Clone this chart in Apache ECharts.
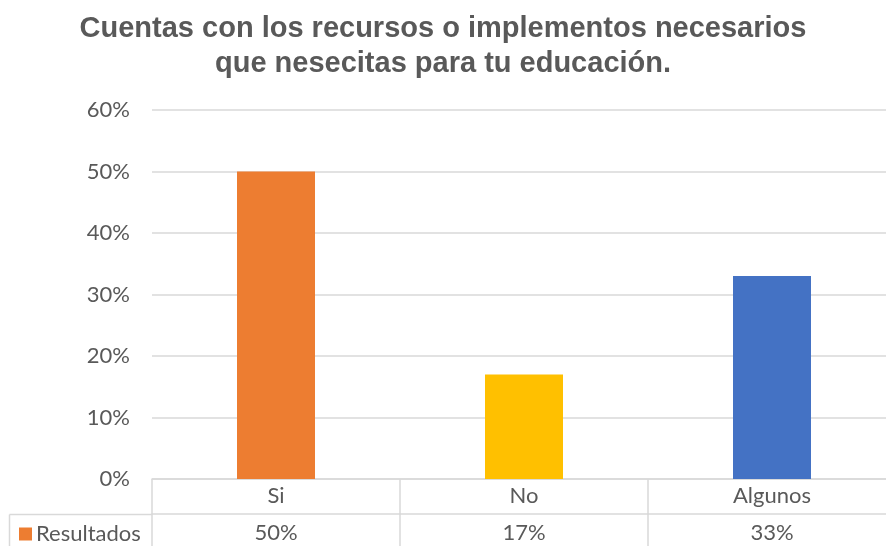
<!DOCTYPE html>
<html>
<head>
<meta charset="utf-8">
<script src="https://cdn.jsdelivr.net/npm/echarts@6/dist/echarts.min.js"></script>
<style>
  html, body { margin: 0; padding: 0; background: #fff; }
  #chart { width: 886px; height: 546px; }
</style>
</head>
<body>
<div id="chart"></div>
<script>
var categories = ["Si", "No", "Algunos"];
var values = [0.50, 0.17, 0.33];
var barColors = ["#ED7D31", "#FFC000", "#4472C4"];
var seriesName = "Resultados";

var chart = echarts.init(document.getElementById("chart"));
var textColor = "#595959";
var lineColor = "#d9d9d9";
var font = "Lato, 'Open Sans', sans-serif";

var option = {
  animation: false,
  title: {
    text: "Cuentas con los recursos o implementos necesarios\nque nesecitas para tu educación.",
    left: "center",
    top: 6,
    textStyle: {
      fontFamily: "'Liberation Sans', Arial, sans-serif",
      fontWeight: "bold",
      fontSize: 29,
      lineHeight: 35,
      color: textColor
    }
  },
  legend: {
    data: [seriesName],
    left: 19,
    top: 523,
    padding: 0,
    icon: "rect",
    itemWidth: 13,
    itemHeight: 13,
    itemGap: 4,
    selectedMode: false,
    textStyle: { fontFamily: font, fontSize: 22, color: textColor, padding: [0, 0, 0, -1] }
  },
  grid: { left: 152, top: 110, width: 744, height: 369, outerBoundsMode: "none", containLabel: false },
  xAxis: [
    {
      type: "category",
      data: categories,
      position: "bottom",
      axisLine: { lineStyle: { color: lineColor, width: 1.5 } },
      axisTick: { show: true, length: 67, interval: 0, lineStyle: { color: lineColor, width: 1.5 } },
      axisLabel: { fontFamily: font, fontSize: 22, color: textColor, margin: 6 }
    },
    {
      type: "category",
      data: values.map(function (v) { return Math.round(v * 100) + "%"; }),
      position: "bottom",
      offset: 35,
      axisLine: { lineStyle: { color: lineColor, width: 1.5 } },
      axisTick: { show: false },
      axisLabel: { fontFamily: font, fontSize: 22, color: textColor, margin: 8 }
    }
  ],
  yAxis: {
    type: "value",
    min: 0,
    max: 0.6,
    interval: 0.1,
    axisLine: { show: false },
    axisTick: { show: false },
    splitLine: { lineStyle: { color: lineColor, width: 1.5 } },
    axisLabel: {
      fontFamily: font,
      fontSize: 22,
      color: textColor,
      margin: 22,
      formatter: function (v) { return Math.round(v * 100) + "%"; }
    }
  },
  graphic: [
    { type: "line", shape: { x1: 9.5, y1: 514.5, x2: 152, y2: 514.5 }, style: { stroke: lineColor, lineWidth: 1.5 } },
    { type: "line", shape: { x1: 9.5, y1: 514.5, x2: 9.5, y2: 546 }, style: { stroke: lineColor, lineWidth: 1.5 } }
  ],
  series: [
    {
      name: seriesName,
      type: "bar",
      barWidth: 78,
      itemStyle: { color: barColors[0] },
      data: values.map(function (v, i) {
        return { value: v, itemStyle: { color: barColors[i] } };
      })
    }
  ]
};

chart.setOption(option);
</script>
</body>
</html>
